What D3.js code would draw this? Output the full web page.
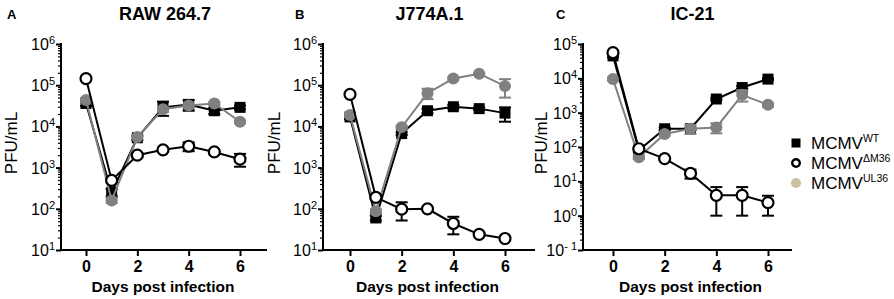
<!DOCTYPE html>
<html lang="en">
  <head>
    <meta charset="UTF-8" />
    <title>MCMV growth in macrophage lines</title>
    <style>
      body {
        margin: 0;
        padding: 0;
        background: #fff;
        font-family: Arial, 'Liberation Sans', sans-serif;
      }
      svg {
        display: block;
      }
    </style>
  </head>

  <body>
    <script src="https://cdn.jsdelivr.net/npm/d3@7"></script>
    <script>
      // days post infection
      const days = [0, 1, 2, 3, 4, 5, 6];
      const titles = ['RAW 264.7', 'J774A.1', 'IC-21'];
      const letters = ['A', 'B', 'C'];
      const xTicks = [0, 2, 4, 6];
      const yExpRanges = [[1, 6], [1, 6], [-1, 5]];

      // PFU/mL, mean and sd per day
      // RAW 264.7
      const wtA = [36000, 250, 5300, 29000, 34000, 24000, 29000];
      const wtA_sd = [5000, 50, 600, 11000, 10000, 4000, 3000];
      const ulA = [44000, 160, 5500, 26000, 32000, 36000, 13000];
      const ulA_sd = [4000, 20, 500, 3000, 3000, 3000, 1000];
      const dmA = [145000, 490, 2000, 2700, 3300, 2400, 1600];
      const dmA_sd = [10000, 50, 200, 300, 800, 200, 550];

      // J774A.1
      const wtB = [17000, 60, 6700, 24000, 30000, 27000, 21000];
      const wtB_sd = [2000, 8, 500, 3000, 3000, 2000, 8000];
      const ulB = [19000, 87, 9600, 64000, 145000, 190000, 95000];
      const ulB_sd = [2000, 10, 800, 18000, 10000, 10000, 45000];
      const dmB = [60000, 190, 98, 100, 44, 24, 19];
      const dmB_sd = [4000, 15, 46, 8, 20, 2, 1];

      // IC-21
      const wtC = [45000, 80, 340, 340, 2500, 5400, 9500];
      const wtC_sd = [4000, 8, 30, 30, 200, 500, 500];
      const ulC = [9500, 50, 240, 340, 370, 3300, 1700];
      const ulC_sd = [1000, 5, 30, 100, 120, 1200, 200];
      const dmC = [56000, 89, 46, 17, 3.9, 3.9, 2.4];
      const dmC_sd = [4000, 8, 4, 5, 2.9, 2.9, 1.4];

      const legendNames = ['WT', 'ΔM36', 'UL36'];

      const panelData = [
        { wt: [wtA, wtA_sd], ul: [ulA, ulA_sd], dm: [dmA, dmA_sd] },
        { wt: [wtB, wtB_sd], ul: [ulB, ulB_sd], dm: [dmB, dmB_sd] },
        { wt: [wtC, wtC_sd], ul: [ulC, ulC_sd], dm: [dmC, dmC_sd] },
      ];

      const width = 894;
      const height = 299;
      const yTop = 44;
      const yBottom = 250;
      const grey = '#808080';

      // layout per panel: y axis x, day 0 x, day 6 x, x axis end
      const layout = [
        { axisX: 61, x0: 86, x6: 240, right: 267, labelX: 17, letterX: 7 },
        { axisX: 323, x0: 350, x6: 505, right: 535, labelX: 280, letterX: 295 },
        { axisX: 583, x0: 613, x6: 768, right: 792, labelX: 547, letterX: 556 },
      ];

      const svg = d3.select('body').append('svg').attr('width', width).attr('height', height);

      layout.forEach((L, p) => {
        const g = svg.append('g');
        const [lo, hi] = yExpRanges[p];
        const x = d3.scaleLinear().domain([0, 6]).range([L.x0, L.x6]);
        const y = d3.scaleLog().domain([Math.pow(10, lo), Math.pow(10, hi)]).range([yBottom, yTop]);

        // titles
        g.append('text')
          .attr('x', L.letterX)
          .attr('y', 19)
          .attr('font-size', 13)
          .attr('font-weight', 'bold')
          .text(letters[p]);
        g.append('text')
          .attr('x', (L.x0 + L.x6) / 2 + 2)
          .attr('y', 20)
          .attr('text-anchor', 'middle')
          .attr('font-size', 18)
          .attr('font-weight', 'bold')
          .text(titles[p]);

        // y axis: minor + major ticks
        const majors = d3.range(lo, hi + 1).map((e) => Math.pow(10, e));
        const minors = [];
        for (let e = lo; e < hi; e++) {
          for (let k = 2; k <= 9; k++) minors.push(k * Math.pow(10, e));
        }
        const minorAxis = d3.axisLeft(y).tickValues(minors).tickSize(3).tickFormat('');
        g.append('g')
          .attr('transform', `translate(${L.axisX},0)`)
          .call(minorAxis)
          .call((s) => s.select('.domain').remove())
          .call((s) => s.selectAll('line').attr('stroke-width', 1.2));

        const majorAxis = d3.axisLeft(y).tickValues(majors).tickSize(5).tickFormat('');
        g.append('g')
          .attr('transform', `translate(${L.axisX},0)`)
          .call(majorAxis)
          .call((s) => s.select('.domain').remove())
          .call((s) => s.selectAll('line').attr('stroke-width', 2));

        g.append('line')
          .attr('x1', L.axisX)
          .attr('x2', L.axisX)
          .attr('y1', yTop - 1)
          .attr('y2', yBottom + 1)
          .attr('stroke', '#000')
          .attr('stroke-width', 2);

        const lab = g
          .selectAll('.ylab')
          .data(d3.range(lo, hi + 1))
          .enter()
          .append('text')
          .attr('class', 'ylab')
          .attr('x', L.axisX - 6)
          .attr('y', (e) => y(Math.pow(10, e)) + 6)
          .attr('text-anchor', 'end')
          .attr('font-size', 16);
        lab.append('tspan').text('10');
        lab.append('tspan').attr('dy', -6).attr('font-size', 11).text((e) => (e < 0 ? '- ' + -e : e));

        g.append('text')
          .attr('transform', `translate(${L.labelX},${(yTop + yBottom) / 2 - 4}) rotate(-90)`)
          .attr('text-anchor', 'middle')
          .attr('font-size', 17)
          .text('PFU/mL');

        // x axis
        g.append('line')
          .attr('x1', L.axisX - 1)
          .attr('x2', L.right)
          .attr('y1', yBottom)
          .attr('y2', yBottom)
          .attr('stroke', '#000')
          .attr('stroke-width', 2);
        g.append('g')
          .attr('transform', `translate(0,${yBottom})`)
          .call(d3.axisBottom(x).tickValues(xTicks).tickFormat(d3.format('d')).tickSize(6).tickPadding(5))
          .call((s) => s.select('.domain').remove())
          .call((s) => s.selectAll('line').attr('stroke-width', 2))
          .call((s) =>
            s.selectAll('text').attr('font-size', 16).attr('font-weight', 'bold').attr('font-family', 'Arial, Liberation Sans, sans-serif').attr('fill', '#000')
          );
        g.append('text')
          .attr('x', (L.x0 + L.x6) / 2)
          .attr('y', 292)
          .attr('text-anchor', 'middle')
          .attr('font-size', 15.5)
          .attr('font-weight', 'bold')
          .text('Days post infection');

        const line = d3
          .line()
          .x((d, i) => x(days[i]))
          .y((d) => y(d));

        const drawErr = (vals, sds, color) => {
          const eg = g.append('g').attr('stroke', color).attr('stroke-width', 2);
          vals.forEach((v, i) => {
            const top = y(v + sds[i]);
            const bot = y(Math.max(v - sds[i], Math.pow(10, lo)));
            const cx = x(days[i]);
            eg.append('line').attr('x1', cx).attr('x2', cx).attr('y1', top).attr('y2', bot);
            eg.append('line').attr('x1', cx - 6).attr('x2', cx + 6).attr('y1', top).attr('y2', top);
            eg.append('line').attr('x1', cx - 6).attr('x2', cx + 6).attr('y1', bot).attr('y2', bot);
          });
        };

        const D = panelData[p];

        // WT: black squares
        drawErr(D.wt[0], D.wt[1], '#000');
        g.append('path').datum(D.wt[0]).attr('d', line).attr('fill', 'none').attr('stroke', '#000').attr('stroke-width', 2);
        g.selectAll('.sq')
          .data(D.wt[0])
          .enter()
          .append('rect')
          .attr('x', (d, i) => x(days[i]) - 5.5)
          .attr('y', (d) => y(d) - 5.5)
          .attr('width', 11)
          .attr('height', 11)
          .attr('fill', '#000');

        // UL36: grey filled circles
        drawErr(D.ul[0], D.ul[1], grey);
        g.append('path').datum(D.ul[0]).attr('d', line).attr('fill', 'none').attr('stroke', grey).attr('stroke-width', 2);
        g.selectAll('.gc')
          .data(D.ul[0])
          .enter()
          .append('circle')
          .attr('cx', (d, i) => x(days[i]))
          .attr('cy', (d) => y(d))
          .attr('r', 6)
          .attr('fill', grey);

        // dM36: open circles
        drawErr(D.dm[0], D.dm[1], '#000');
        g.append('path').datum(D.dm[0]).attr('d', line).attr('fill', 'none').attr('stroke', '#000').attr('stroke-width', 2);
        g.selectAll('.oc')
          .data(D.dm[0])
          .enter()
          .append('circle')
          .attr('cx', (d, i) => x(days[i]))
          .attr('cy', (d) => y(d))
          .attr('r', 5.5)
          .attr('fill', '#fff')
          .attr('stroke', '#000')
          .attr('stroke-width', 2.2);
      });

      // legend
      const lg = svg.append('g').attr('transform', 'translate(796,0)');
      const rows = [143, 163, 183];
      lg.append('rect').attr('x', -4.5).attr('y', rows[0] - 4.5).attr('width', 9).attr('height', 9).attr('fill', '#000');
      lg.append('circle').attr('cx', 0).attr('cy', rows[1]).attr('r', 3.8).attr('fill', '#fff').attr('stroke', '#000').attr('stroke-width', 2.4);
      lg.append('circle').attr('cx', 0).attr('cy', rows[2]).attr('r', 5).attr('fill', '#c9c1a0');
      legendNames.forEach((n, i) => {
        const t = lg.append('text').attr('x', 15).attr('y', rows[i] + 6).attr('font-size', 17);
        t.append('tspan').text('MCMV');
        t.append('tspan').attr('dy', -7).attr('font-size', 10.5).text(n);
      });
    </script>
  </body>
</html>
